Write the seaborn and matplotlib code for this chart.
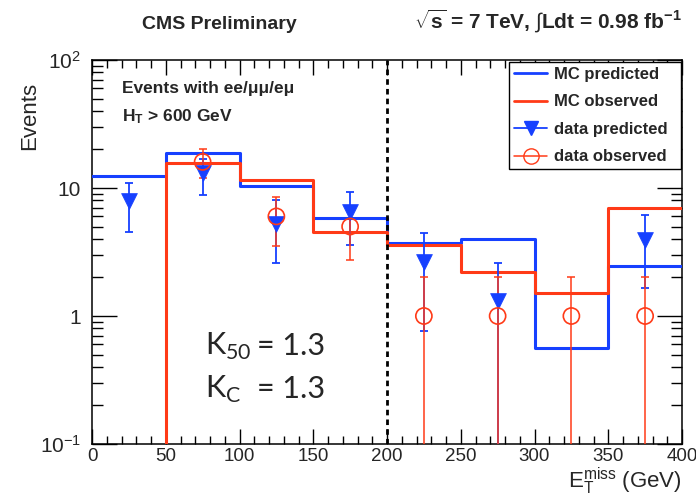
import numpy as np
import pandas as pd
import matplotlib
matplotlib.use("Agg")
import matplotlib.pyplot as plt
from matplotlib.lines import Line2D
from matplotlib.ticker import FixedLocator, FixedFormatter, MultipleLocator
import seaborn as sns

# ---------------- data ----------------
bin_edges = [0, 50, 100, 150, 200, 250, 300, 350, 400]
mc_predicted = [12.4, 18.8, 10.4, 5.8, 3.7, 4.0, 0.56, 2.47]
mc_observed = [0.0, 15.8, 11.5, 4.5, 3.6, 2.19, 1.52, 7.0]

pred_x = [25, 75, 125, 175, 225, 275, 375]
pred_y = [7.9, 13.2, 5.2, 6.5, 2.64, 1.31, 3.93]
pred_hi = [11.0, 16.8, 8.0, 9.25, 4.43, 2.61, 6.15]
pred_lo = [4.56, 8.8, 2.6, 3.6, 0.77, 0.0, 1.66]

obs_x = [75, 125, 175, 225, 275, 325, 375]
obs_y = [16, 6, 5, 1, 1, 1, 1]
obs_hi = [20, 8.45, 7.24, 2, 2, 2, 2]
obs_lo = [12, 3.55, 2.76, 0, 0, 0, 0]

ytick_vals = [0.1, 1, 10, 100]
ytick_labels = ["10$^{-1}$", "1", "10", "10$^{2}$"]
xtick_vals = [0, 50, 100, 150, 200, 250, 300, 350, 400]

BLUE = "#1640ff"
RED = "#ff3a17"

# ---------------- style ----------------
sns.set_style("ticks")
plt.rcParams["font.family"] = ["Liberation Sans", "DejaVu Sans"]
plt.rcParams["mathtext.fontset"] = "custom"
plt.rcParams["mathtext.rm"] = "Liberation Sans"
plt.rcParams["mathtext.it"] = "Liberation Sans:italic"
plt.rcParams["mathtext.bf"] = "Liberation Sans:bold"

W, H = 696, 496
fig = plt.figure(figsize=(W / 100, H / 100), dpi=100)
ax = fig.add_axes([92 / W, 1 - 444 / H, (682 - 92) / W, (444 - 60) / H])

# step histograms
step_x = bin_edges
df_pred = pd.DataFrame({"x": step_x, "y": mc_predicted + [mc_predicted[-1]]})
df_obs = pd.DataFrame({"x": step_x, "y": mc_observed + [mc_observed[-1]]})
sns.lineplot(data=df_pred, x="x", y="y", drawstyle="steps-post", color=BLUE,
             lw=2.2, estimator=None, sort=False, ax=ax, zorder=3)
sns.lineplot(data=df_obs, x="x", y="y", drawstyle="steps-post", color=RED,
             lw=2.2, estimator=None, sort=False, ax=ax, zorder=3.1)

ax.set_yscale("log")

# error bars
py = np.array(pred_y)
ax.errorbar(pred_x, py, yerr=[py - np.array(pred_lo), np.array(pred_hi) - py],
            fmt="none", ecolor=BLUE, elinewidth=1.3, capsize=3, capthick=1.3, zorder=4)
oy = np.array(obs_y, dtype=float)
ax.errorbar(obs_x, oy, yerr=[oy - np.array(obs_lo), np.array(obs_hi) - oy],
            fmt="none", ecolor=RED, elinewidth=1.1, capsize=3, capthick=1.1, zorder=4.1)

sns.scatterplot(x=pred_x, y=pred_y, marker="v", s=130, color=BLUE,
                edgecolor=BLUE, linewidth=0.5, ax=ax, zorder=5)
sns.scatterplot(x=obs_x, y=obs_y, marker="o", s=135, facecolor="none",
                edgecolor=RED, linewidth=1.2, ax=ax, zorder=5.1)

# dashed divider
ax.axvline(200, color="black", lw=2, ls=(0, (2.0, 1.5)), zorder=6)

ax.set_xlim(0, 400)
ax.set_ylim(0.1, 100)

ax.xaxis.set_major_locator(FixedLocator(xtick_vals))
ax.xaxis.set_minor_locator(MultipleLocator(10))
ax.yaxis.set_major_locator(FixedLocator(ytick_vals))
ax.yaxis.set_major_formatter(FixedFormatter(ytick_labels))
ax.yaxis.set_minor_locator(matplotlib.ticker.LogLocator(base=10, subs=np.arange(2, 10)))
ax.yaxis.set_minor_formatter(matplotlib.ticker.NullFormatter())

ax.tick_params(which="both", direction="in", top=True, right=True, color="black", width=1)
ax.tick_params(axis="x", which="major", length=11, labelsize=13.5, pad=3)
ax.tick_params(axis="x", which="minor", length=5.5)
ax.tick_params(axis="y", which="major", length=18, labelsize=15, pad=8)
ax.tick_params(axis="y", which="minor", length=8)
for s in ax.spines.values():
    s.set_visible(True)
    s.set_color("black")
    s.set_linewidth(1.1)

ax.set_xlabel("")
ax.set_ylabel("")
fig.text(30 / W, 1 - 82 / H, "Events", rotation=90, ha="center", va="top", fontsize=16)
fig.text(682 / W, 1 - 488 / H, "E$_\\mathregular{T}^\\mathregular{miss}$ (GeV)",
         ha="right", va="baseline", fontsize=16)

# titles
fig.text(142 / W, 1 - 29 / H, "CMS Preliminary", ha="left", va="baseline",
         fontsize=14, fontweight="bold")
fig.text(682 / W, 1 - 29 / H,
         "$\\sqrt{\\mathbf{s}}$ = 7 TeV, $\\int$Ldt = 0.98 fb$^{\\mathbf{-1}}$",
         ha="right", va="baseline", fontsize=15, fontweight="bold")

# inner labels
fig.text(122 / W, 1 - 93 / H, "Events with ee/μμ/eμ", ha="left", va="baseline",
         fontsize=12.5, fontweight="bold")
fig.text(122 / W, 1 - 121 / H, "H$_\\mathbf{T}$ > 600 GeV", ha="left", va="baseline",
         fontsize=12.5, fontweight="bold")

kfont = ["Lato", "DejaVu Sans"]
fig.text(205 / W, 1 - 355 / H, "K$_\\mathregular{50}$", ha="left", va="baseline",
         fontsize=22, family=kfont)
fig.text(257 / W, 1 - 355 / H, "= 1.3", ha="left", va="baseline", fontsize=22, family=kfont)
fig.text(205 / W, 1 - 398 / H, "K$_\\mathregular{C}$", ha="left", va="baseline",
         fontsize=22, family=kfont)
fig.text(257 / W, 1 - 398 / H, "= 1.3", ha="left", va="baseline", fontsize=22, family=kfont)

# legend
handles = [
    Line2D([], [], color=BLUE, lw=2),
    Line2D([], [], color=RED, lw=2),
    Line2D([], [], color=BLUE, lw=1.3, marker="v", markersize=10),
    Line2D([], [], color=RED, lw=1.1, marker="o", markersize=11, mfc="none"),
]
labels = ["MC predicted", "MC observed", "data predicted", "data observed"]
leg = ax.legend(handles, labels, loc="upper left",
                bbox_to_anchor=(0.707, 0.719, 0.291, 0.276), mode="expand",
                frameon=True, fancybox=False, framealpha=1, edgecolor="black",
                prop={"size": 12, "weight": "bold"}, handlelength=2.0,
                handletextpad=0.4, labelspacing=0.75, borderpad=0.3,
                borderaxespad=0)
leg.get_frame().set_linewidth(1.0)

fig.savefig("out.png", dpi=100)
